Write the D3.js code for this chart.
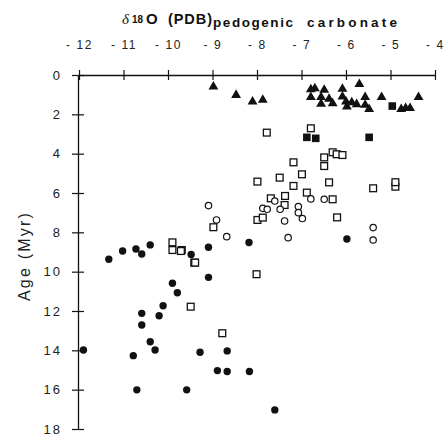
<!DOCTYPE html>
<html>
<head>
<meta charset="utf-8">
<script src="https://cdn.jsdelivr.net/npm/d3@7"></script>
<style>
  body { margin: 0; background: #fff; }
  svg { font-family: "Liberation Sans", Arial, sans-serif; }
</style>
</head>
<body>
<svg width="445" height="436"></svg>
<script>
// [d18O, age]
const filledTriangles = [
  [-8.98, 0.59], [-8.47, 1.02], [-8.10, 1.36], [-7.87, 1.27],
  [-6.79, 0.73], [-6.70, 0.68], [-6.49, 0.76], [-6.08, 0.71], [-5.70, 0.47],
  [-6.79, 1.13], [-6.56, 1.13], [-6.38, 1.22], [-6.56, 1.47], [-6.30, 1.44],
  [-6.08, 1.10], [-6.00, 1.36], [-5.98, 1.61], [-5.87, 1.39], [-5.76, 1.49],
  [-5.57, 1.13], [-5.57, 1.52], [-5.48, 1.74], [-5.20, 1.13], [-4.37, 1.13],
  [-4.76, 1.74], [-4.66, 1.69], [-4.56, 1.69]
];
const filledSquares = [
  [-4.96, 1.58], [-6.88, 3.17], [-6.68, 3.22], [-5.48, 3.17]
];
const openSquares = [
  [-7.78, 2.93], [-6.79, 2.71], [-6.30, 3.93], [-6.21, 4.03], [-6.08, 4.07],
  [-6.49, 4.19], [-6.49, 4.63], [-7.18, 4.44], [-6.99, 5.05], [-7.99, 5.42],
  [-7.49, 5.22], [-7.18, 5.64], [-6.38, 5.46], [-5.39, 5.76], [-4.89, 5.68],
  [-4.89, 5.45], [-6.88, 5.98], [-7.69, 6.27], [-7.37, 6.15], [-7.38, 6.61],
  [-6.30, 6.32], [-6.20, 7.24], [-7.99, 7.37], [-7.87, 7.25], [-8.98, 7.74],
  [-9.69, 8.90], [-9.41, 9.54], [-9.90, 8.51], [-9.90, 8.90], [-9.71, 8.95],
  [-9.39, 9.54], [-9.49, 11.78], [-8.78, 13.13], [-8.01, 10.13]
];
const openCircles = [
  [-9.09, 6.64], [-8.91, 7.37], [-8.68, 8.22], [-7.60, 6.41], [-7.87, 6.78],
  [-7.77, 6.83], [-7.48, 6.83], [-6.79, 6.30], [-6.49, 6.32], [-7.07, 6.69],
  [-7.07, 7.00], [-7.38, 7.42], [-6.98, 7.30], [-7.30, 8.27], [-5.39, 7.76],
  [-5.39, 8.39]
];
const filledCircles = [
  [-8.18, 8.52], [-9.09, 8.76], [-9.48, 9.13], [-5.98, 8.34],
  [-11.33, 9.37], [-11.02, 8.95], [-10.72, 8.85], [-10.59, 9.10], [-10.40, 8.64],
  [-9.09, 10.29], [-9.90, 10.59], [-9.79, 11.07], [-10.11, 11.73],
  [-11.90, 13.98], [-10.59, 12.12], [-10.20, 12.24], [-10.59, 12.71],
  [-10.40, 13.56], [-10.29, 13.98], [-10.78, 14.27], [-10.70, 16.01],
  [-9.58, 16.01], [-9.28, 14.10], [-8.67, 14.03], [-8.89, 15.03],
  [-8.67, 15.08], [-8.17, 15.08], [-7.60, 17.03]
];
const xTicks = [-12, -11, -10, -9, -8, -7, -6, -5, -4];
const yTicks = [0, 2, 4, 6, 8, 10, 12, 14, 16, 18];

const svg = d3.select('svg');
const x = d3.scaleLinear().domain([-12, -4]).range([79, 435]);
const y = d3.scaleLinear().domain([0, 18]).range([75, 429]);

// top axis, labels typeset as "- 12"
const xAxis = svg.append('g').attr('transform', `translate(0,${y(0)})`)
  .call(d3.axisTop(x).tickValues(xTicks).tickSizeOuter(0).tickSizeInner(0)
    .tickFormat(d => '- ' + Math.abs(d)));
xAxis.select('.domain').attr('stroke', '#111').attr('stroke-width', 1.3);
xAxis.selectAll('.tick line').attr('y1', -5).attr('y2', 5).attr('stroke', '#111').attr('stroke-width', 1.2);
xAxis.selectAll('.tick text').attr('y', -26).attr('font-size', 12).attr('letter-spacing', 1.6)
  .attr('font-family', '"Liberation Sans", Arial, sans-serif').attr('fill', '#222');

// left axis
const yAxis = svg.append('g').attr('transform', `translate(${x(-12) - 1},0)`)
  .call(d3.axisLeft(y).tickValues(yTicks).tickSizeOuter(0).tickSizeInner(0));
yAxis.select('.domain').attr('stroke', '#111').attr('stroke-width', 1.3);
yAxis.selectAll('.tick line').attr('x1', -6).attr('x2', 6).attr('stroke', '#111').attr('stroke-width', 1.2);
yAxis.selectAll('.tick text').attr('x', -16).attr('font-size', 13).attr('letter-spacing', 2)
  .attr('font-family', '"Liberation Sans", Arial, sans-serif').attr('fill', '#222');

// axis titles
svg.append('text')
  .attr('transform', `translate(30,${(y(0) + y(18)) / 2 + 4}) rotate(-90)`)
  .attr('text-anchor', 'middle').attr('font-size', 16).attr('fill', '#222')
  .attr('letter-spacing', 2.2)
  .text('Age (Myr)');

const title = svg.append('text').attr('y', 24).attr('font-weight', 'bold').attr('fill', '#111');
title.append('tspan').attr('x', 122).attr('font-family', '"Liberation Serif", serif').attr('font-weight', 'normal')
  .attr('font-style', 'italic').attr('font-size', 15).text('δ');
title.append('tspan').attr('x', 132).attr('font-size', 11.5).attr('dy', -1)
  .attr('textLength', 11).attr('lengthAdjust', 'spacingAndGlyphs').text('18');
title.append('tspan').attr('x', 146).attr('font-size', 15).attr('dy', 1).text('O');
title.append('tspan').attr('x', 168).attr('font-size', 14.5)
  .attr('textLength', 44).attr('lengthAdjust', 'spacing').text('(PDB)');
title.append('tspan').attr('x', 213).attr('font-size', 13.5).attr('dy', 3)
  .attr('textLength', 80).attr('lengthAdjust', 'spacing').text('pedogenic');
title.append('tspan').attr('x', 307).attr('font-size', 13.5)
  .attr('textLength', 90).attr('lengthAdjust', 'spacing').text('carbonate');

// marks
const g = svg.append('g');
const tri = d3.symbol().type(d3.symbolTriangle).size(42);

g.selectAll('.ftri').data(filledTriangles).join('path')
  .attr('class', 'ftri')
  .attr('d', tri)
  .attr('transform', d => `translate(${x(d[0])},${y(d[1])})`)
  .attr('fill', '#111');

g.selectAll('.fsq').data(filledSquares).join('rect')
  .attr('class', 'fsq')
  .attr('x', d => x(d[0]) - 3.8).attr('y', d => y(d[1]) - 3.8)
  .attr('width', 7.6).attr('height', 7.6)
  .attr('fill', '#111');

g.selectAll('.osq').data(openSquares).join('rect')
  .attr('class', 'osq')
  .attr('x', d => x(d[0]) - 3.4).attr('y', d => y(d[1]) - 3.4)
  .attr('width', 6.8).attr('height', 6.8)
  .attr('fill', '#fff').attr('stroke', '#111').attr('stroke-width', 1.3);

g.selectAll('.ocirc').data(openCircles).join('circle')
  .attr('class', 'ocirc')
  .attr('cx', d => x(d[0])).attr('cy', d => y(d[1])).attr('r', 3.2)
  .attr('fill', '#fff').attr('stroke', '#111').attr('stroke-width', 1.2);

g.selectAll('.fcirc').data(filledCircles).join('circle')
  .attr('class', 'fcirc')
  .attr('cx', d => x(d[0])).attr('cy', d => y(d[1])).attr('r', 3.7)
  .attr('fill', '#111');
</script>
</body>
</html>
